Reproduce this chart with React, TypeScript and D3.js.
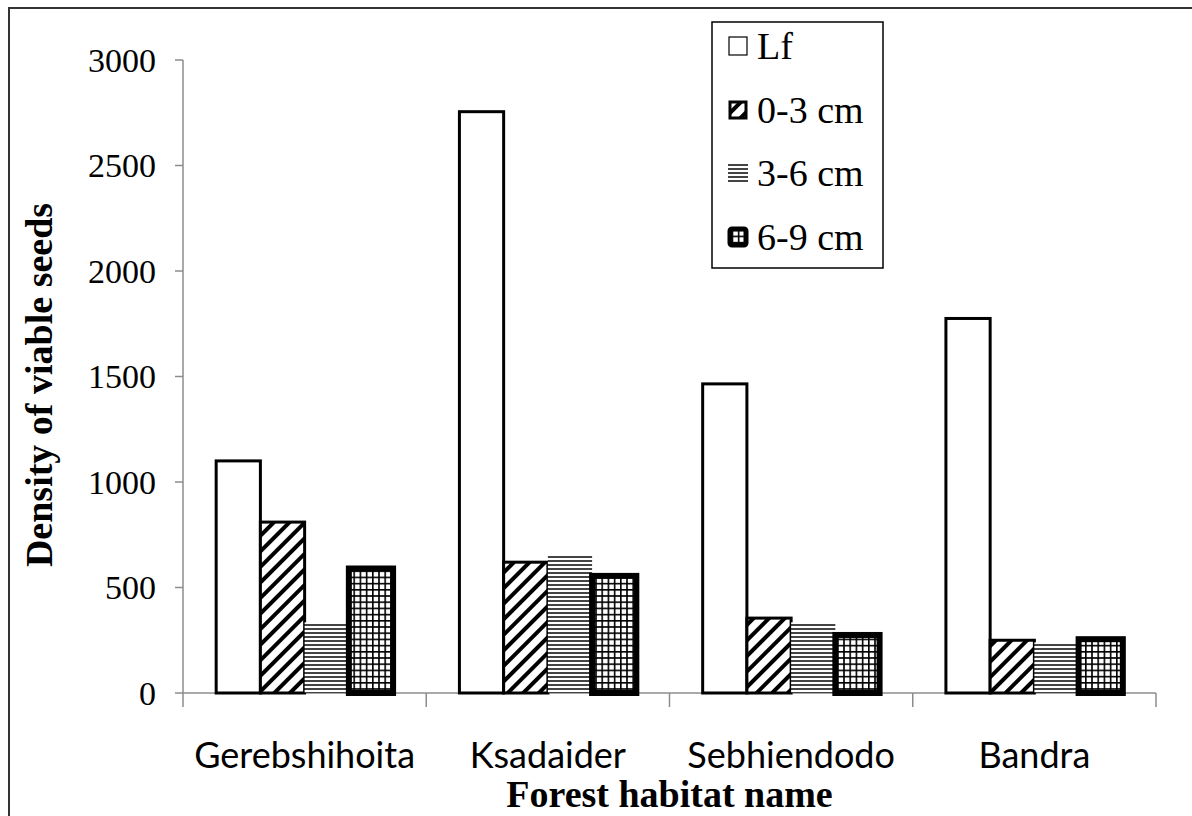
import React from "react";
import * as d3 from "d3";

const categories = ["Gerebshihoita", "Ksadaider", "Sebhiendodo", "Bandra"];
const seriesNames = ["Lf", "0-3 cm", "3-6 cm", "6-9 cm"];
const lfValues = [1100, 2755, 1465, 1775];
const d03Values = [810, 620, 355, 250];
const d36Values = [335, 655, 335, 240];
const d69Values = [590, 555, 275, 255];
const yTicks = [0, 500, 1000, 1500, 2000, 2500, 3000];

const seriesValues = [lfValues, d03Values, d36Values, d69Values];

const fills = ["#ffffff", "url(#diag)", "url(#hlines)", "url(#grid)"];
const strokes = ["#000", "#000", "none", "#000"];
const strokeWidths = [3, 3, 0, 6];

export default function App() {
  const W = 1192;
  const H = 816;
  const x0 = 183;
  const x1 = 1156;
  const y0 = 693;
  const y1 = 60;

  const y = d3.scaleLinear().domain([0, 3000]).range([y0, y1]);
  const xCat = d3.scaleBand<string>().domain(categories).range([x0, x1]).paddingInner(0).paddingOuter(0);
  const xSer = d3
    .scaleBand<string>()
    .domain(seriesNames)
    .range([0, xCat.bandwidth()])
    .paddingInner(0)
    .paddingOuter(0.75);

  const serif = "'Liberation Serif', 'Times New Roman', serif";
  const sans = "Lato, 'Liberation Sans', sans-serif";
  const axisColor = "#8c8c8c";

  const legendRows = [59, 123, 186, 250];

  return (
    <svg
      width={W}
      height={H}
      style={{ position: "absolute", left: 0, top: 0, background: "#fff" }}
    >
      <defs>
        <pattern id="diag" patternUnits="userSpaceOnUse" width={11} height={11} patternTransform="rotate(45)">
          <rect width={11} height={11} fill="#fff" />
          <rect x={0} y={0} width={4} height={11} fill="#000" />
        </pattern>
        <pattern id="hlines" patternUnits="userSpaceOnUse" width={4} height={4}>
          <rect width={4} height={4} fill="#fff" />
          <rect x={0} y={0} width={4} height={2} fill="#444" />
        </pattern>
        <pattern id="grid" patternUnits="userSpaceOnUse" width={6.2} height={6.2}>
          <rect width={6.2} height={6.2} fill="#fff" />
          <rect x={0} y={0} width={6.2} height={1.6} fill="#000" />
          <rect x={0} y={0} width={1.6} height={6.2} fill="#000" />
        </pattern>
      </defs>

      {/* outer border */}
      <rect x={9} y={8} width={1300} height={1000} fill="none" stroke="#333" strokeWidth={2} />

      {/* y axis */}
      <line x1={x0} x2={x0} y1={y(3000)} y2={y0} stroke={axisColor} strokeWidth={1.5} />
      {yTicks.map((t) => (
        <g key={t}>
          <line x1={x0 - 8} x2={x0} y1={y(t)} y2={y(t)} stroke={axisColor} strokeWidth={1.5} />
          <text
            x={156}
            y={y(t) + 11.5}
            textAnchor="end"
            fontFamily={serif}
            fontSize={34}
            fill="#000"
          >
            {t}
          </text>
        </g>
      ))}

      {/* x axis */}
      <line x1={x0} x2={x1} y1={y0} y2={y0} stroke={axisColor} strokeWidth={1.5} />
      {[...categories.map((c) => xCat(c) as number), x1].map((tx, i) => (
        <line key={i} x1={tx} x2={tx} y1={y0} y2={y0 + 14} stroke={axisColor} strokeWidth={1.5} />
      ))}

      {/* bars */}
      {seriesNames.map((s, si) => (
        <g key={s}>
          {categories.map((c, ci) => {
            const v = seriesValues[si][ci];
            const bx = (xCat(c) as number) + (xSer(s) as number);
            const bw = xSer.bandwidth();
            return (
              <rect
                key={c}
                x={bx}
                y={y(v)}
                width={bw}
                height={y0 - y(v)}
                fill={fills[si]}
                stroke={strokes[si]}
                strokeWidth={strokeWidths[si]}
              />
            );
          })}
        </g>
      ))}

      {categories.map((c) => (
        <text
          key={c}
          x={(xCat(c) as number) + xCat.bandwidth() / 2}
          y={768}
          textAnchor="middle"
          fontFamily={sans}
          fontSize={36}
          fill="#000"
        >
          {c}
        </text>
      ))}

      {/* axis titles */}
      <text
        x={(x0 + x1) / 2}
        y={807}
        textAnchor="middle"
        fontFamily={serif}
        fontWeight="bold"
        fontSize={38}
        fill="#000"
      >
        Forest habitat name
      </text>
      <text
        transform={`translate(52, 385) rotate(-90)`}
        textAnchor="middle"
        fontFamily={serif}
        fontWeight="bold"
        fontSize={38}
        fill="#000"
      >
        Density of viable seeds
      </text>

      {/* legend */}
      <rect x={712} y={22} width={171} height={246} fill="#fff" stroke="#000" strokeWidth={1.5} />
      {seriesNames.map((s, si) => {
        const cy = legendRows[si] - 13;
        const sw = 18;
        return (
          <g key={s}>
            {si === 0 && (
              <rect x={729} y={cy - sw / 2} width={sw} height={sw} fill="#fff" stroke="#000" strokeWidth={1.2} />
            )}
            {si === 1 && (
              <rect x={730} y={cy - sw / 2 + 1} width={sw - 2} height={sw - 2} fill="url(#diag)" stroke="#000" strokeWidth={3} />
            )}
            {si === 2 && <rect x={728} y={cy - sw / 2} width={sw + 2} height={sw} fill="url(#hlines)" />}
            {si === 3 && (
              <rect x={730} y={cy - sw / 2 + 1} width={sw - 2} height={sw - 2} fill="url(#grid)" stroke="#000" strokeWidth={5} rx={2} />
            )}
            <text x={757} y={legendRows[si]} fontFamily={serif} fontSize={38} fill="#000">
              {s}
            </text>
          </g>
        );
      })}
    </svg>
  );
}
